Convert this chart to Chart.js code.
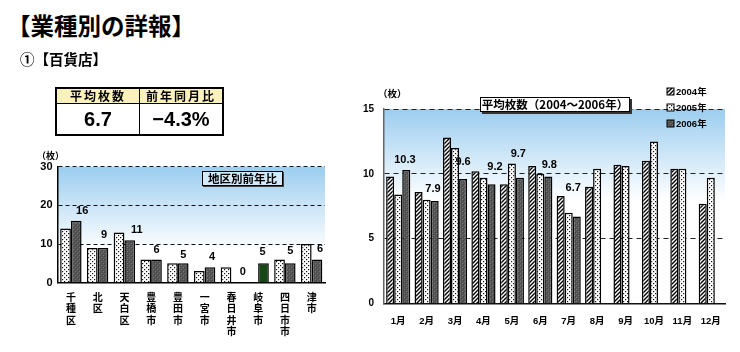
<!DOCTYPE html>
<html lang="ja">
<head>
<meta charset="utf-8">
<script src="https://cdn.jsdelivr.net/npm/chart.js@4.4.1/dist/chart.umd.min.js"></script>
<style>
  html, body { margin: 0; padding: 0; background: #fff; }
  body { width: 740px; height: 352px; position: relative; overflow: hidden;
         font-family: "Liberation Sans", "Noto Sans CJK JP", sans-serif; font-weight: bold; color: #000; }
  .abs { position: absolute; white-space: nowrap; }
  #title { left: 7px; top: 12px; font-size: 23.5px; line-height: 27px; font-family: "Noto Sans CJK JP", sans-serif; }
  #sub { left: 20px; top: 51px; font-size: 14.5px; line-height: 16px; font-family: "Noto Sans CJK JP", sans-serif; }
  #tbl { left: 55px; top: 87px; border-collapse: collapse; border: 2px solid #000; }
  #tbl td { border: 1.5px solid #000; padding: 0; text-align: center; }
  #tbl .h { background: #fbf1bd; height: 14px; font-size: 12px; line-height: 14px; letter-spacing: 2px; font-family: "Noto Sans CJK JP", sans-serif; }
  #tbl .v { background: #fff; height: 30px; font-size: 20px; line-height: 30px; }
  .unit { font-size: 9px; line-height: 10px; font-family: "Noto Sans CJK JP", sans-serif; }
  .box { border: 1.5px solid #000; text-align: center; font-family: "Noto Sans CJK JP", sans-serif; }
  #boxR { left: 480px; top: 97px; width: 148px; height: 13px; font-size: 11.5px; line-height: 13px; background: #fff; box-shadow: 2px 2px 0 #333; }
  #boxL { left: 202px; top: 171px; width: 79px; height: 13px; font-size: 11.5px; line-height: 13px; background: rgba(240,248,253,0.6); box-shadow: 1px 1px 0 #444; border-width: 1.2px; }
  #wrapL { position: absolute; left: 20px; top: 145px; width: 320px; height: 200px; }
  #wrapR { position: absolute; left: 355px; top: 85px; width: 385px; height: 255px; }
</style>
</head>
<body>
<div id="wrapL"><canvas id="chartL"></canvas></div>
<div id="wrapR"><canvas id="chartR"></canvas></div>

<div class="abs" id="title">【業種別の詳報】</div>
<div class="abs" id="sub">①【百貨店】</div>
<table class="abs" id="tbl">
  <tr><td class="h" style="width:82px">平均枚数</td><td class="h" style="width:82px">前年同月比</td></tr>
  <tr><td class="v">6.7</td><td class="v">−4.3%</td></tr>
</table>
<div class="abs unit" style="left:37px; top:151px;">（枚）</div>
<div class="abs unit" style="left:378px; top:88px; font-size:9.5px;">（枚）</div>
<div class="abs box" id="boxR">平均枚数（2004～2006年）</div>
<div class="abs box" id="boxL">地区別前年比</div>

<script>
// ---------- data ----------
const districtNames = ['千種区', '北区', '天白区', '豊橋市', '豊田市', '一宮市', '春日井市', '岐阜市', '四日市市', '津市'];
const districtPrev = [14, 9, 13, 6, 5, 3, 4, null, 6, 10];
const districtCurr = [16, 9, 11, 6, 5, 4, 0, 5, 5, 6];
const districtTicks = [0, 10, 20, 30];

const months = ['1月', '2月', '3月', '4月', '5月', '6月', '7月', '8月', '9月', '10月', '11月', '12月'];
const seriesNames = ['2004年', '2005年', '2006年'];
const avg2004 = [9.8, 8.6, 12.8, 10.2, 9.2, 10.6, 8.3, 9.0, 10.7, 11.0, 10.4, 7.7];
const avg2005 = [8.4, 8.0, 12.0, 9.7, 10.8, 10.0, 7.0, 10.4, 10.6, 12.5, 10.4, 9.7];
const avg2006 = [10.3, 7.9, 9.6, 9.2, 9.7, 9.8, 6.7, null, null, null, null, null];
const monthTicks = [0, 5, 10, 15];

// ---------- patterns ----------
function makePattern(kind) {
  const c = document.createElement('canvas');
  c.width = 4; c.height = 4;
  const g = c.getContext('2d');
  if (kind === 'hatch') {
    g.fillStyle = '#fff'; g.fillRect(0, 0, 4, 4);
    g.strokeStyle = '#000'; g.lineWidth = 1.4;
    g.beginPath();
    g.moveTo(-1, 5); g.lineTo(5, -1);
    g.moveTo(-1, 1); g.lineTo(1, -1);
    g.moveTo(3, 5); g.lineTo(5, 3);
    g.stroke();
  } else if (kind === 'dots') {
    g.fillStyle = '#fff'; g.fillRect(0, 0, 4, 4);
    g.fillStyle = '#111';
    g.fillRect(0, 0, 1.2, 1.2);
    g.fillRect(2, 2, 1.2, 1.2);
  } else {
    g.fillStyle = '#555'; g.fillRect(0, 0, 4, 4);
    g.fillStyle = '#777';
    g.fillRect(1, 0, 1, 1); g.fillRect(3, 2, 1, 1);
    g.fillStyle = '#444';
    g.fillRect(0, 3, 1, 1); g.fillRect(2, 1, 1, 1);
  }
  return g.createPattern(c, 'repeat');
}
const hatch = makePattern('hatch');
const dots = makePattern('dots');
const dark = makePattern('dark');

const FONT = '"Liberation Sans", "Noto Sans CJK JP", sans-serif';

// ---------- plugins ----------
const bgPlugin = {
  id: 'bgGrad',
  beforeDraw(chart, args, opts) {
    const { ctx, chartArea: a, scales } = chart;
    const yEnd = scales.y.getPixelForValue(opts.fadeTo);
    const gr = ctx.createLinearGradient(0, a.top, 0, yEnd);
    gr.addColorStop(0, '#9ccdef');
    gr.addColorStop(1, 'rgba(255,255,255,1)');
    ctx.save();
    ctx.fillStyle = gr;
    ctx.fillRect(a.left, a.top, a.right - a.left, yEnd - a.top);
    ctx.restore();
  }
};

// value labels drawn above each bar of one dataset; per-label nudges are style options
const valuePlugin = {
  id: 'values',
  afterDatasetsDraw(chart, args, opts) {
    const { ctx } = chart;
    const ds = chart.data.datasets[opts.dataset];
    const meta = chart.getDatasetMeta(opts.dataset);
    ctx.save();
    ctx.font = 'bold ' + opts.size + 'px ' + FONT;
    ctx.fillStyle = '#000';
    ctx.textAlign = 'center';
    ctx.textBaseline = 'middle';
    meta.data.forEach((bar, i) => {
      const v = ds.data[i];
      if (v === null || v === undefined) return;
      const txt = opts.decimals ? v.toFixed(1) : String(v);
      const dx = (opts.dx && opts.dx[i] !== undefined) ? opts.dx[i] : 0;
      const dy = (opts.dy && opts.dy[i] !== undefined) ? opts.dy[i] : 10.5;
      ctx.fillText(txt, bar.x + dx, bar.y - dy);
    });
    ctx.restore();
  }
};

const legendPlugin = {
  id: 'myLegend',
  afterDraw(chart, args, opts) {
    const { ctx } = chart;
    const fills = [hatch, dots, dark];
    ctx.save();
    seriesNames.forEach((name, i) => {
      const x = opts.x, y = opts.y + i * opts.step;
      ctx.fillStyle = fills[i];
      ctx.fillRect(x, y - 3.5, 7, 7);
      ctx.strokeStyle = '#000'; ctx.lineWidth = 1;
      ctx.strokeRect(x, y - 3.5, 7, 7);
      ctx.fillStyle = '#000';
      ctx.font = 'bold 9.5px ' + FONT;
      ctx.textAlign = 'left';
      ctx.textBaseline = 'middle';
      ctx.fillText(name, x + 9, y + 0.5);
    });
    ctx.restore();
  }
};

// ---------- left chart ----------
new Chart(document.getElementById('chartL'), {
  type: 'bar',
  data: {
    labels: districtNames.map(n => [...n]),
    datasets: [
      { label: '前年', data: districtPrev, backgroundColor: dots, borderColor: '#000', borderWidth: 1.5,
        barPercentage: 1.0, categoryPercentage: 0.8 },
      { label: '当年', data: districtCurr,
        backgroundColor: (c) => c.dataIndex === 7 ? '#174717' : dark,
        borderColor: '#000',
        borderWidth: (c) => c.raw === 0 ? 0 : 1.5,
        barPercentage: 1.0, categoryPercentage: 0.8 }
    ]
  },
  options: {
    responsive: true, maintainAspectRatio: false, animation: false,
    layout: { padding: { top: 21.7, right: 15, bottom: 0, left: 0 } },
    plugins: {
      legend: { display: false }, tooltip: { enabled: false },
      bgGrad: { fadeTo: 8.5 },
      values: { dataset: 1, size: 11, decimals: false,
                dx: [6, 1, 7, 0, 0, 2, 6, -1, 0, 3],
                dy: [10.3, 12.6, 9.8, 9.3, 8.5, 9.8, 10.7, 11.2, 12.2, 11] }
    },
    scales: {
      x: {
        grid: { display: false },
        border: { display: true, color: '#000', width: 1.5 },
        ticks: { color: '#000', padding: 0.5, maxRotation: 0, autoSkip: false,
                 font: { family: '"Noto Sans CJK JP", sans-serif', size: 10, weight: 'bold', lineHeight: 1.15 } },
        afterFit(s) { s.height = 62.3; }
      },
      y: {
        min: 0, max: 30,
        afterBuildTicks(s) { s.ticks = districtTicks.map(v => ({ value: v })); },
        grid: { drawTicks: false, color: (c) => c.tick && c.tick.value === 0 ? 'rgba(0,0,0,0)' : '#111', lineWidth: 1 },
        border: { display: true, color: '#000', width: 1.5, dash: [4, 3] },
        ticks: { color: '#000', padding: 5, font: { family: FONT, size: 11, weight: 'bold' } },
        afterFit(s) { s.width = 37.5; }
      }
    }
  },
  plugins: [bgPlugin, valuePlugin]
});

// ---------- right chart ----------
new Chart(document.getElementById('chartR'), {
  type: 'bar',
  data: {
    labels: months,
    datasets: [
      { label: seriesNames[0], data: avg2004, backgroundColor: hatch, borderColor: '#000', borderWidth: 1.5,
        barPercentage: 1.0, categoryPercentage: 0.85 },
      { label: seriesNames[1], data: avg2005, backgroundColor: dots, borderColor: '#000', borderWidth: 1.5,
        barPercentage: 1.0, categoryPercentage: 0.85 },
      { label: seriesNames[2], data: avg2006, backgroundColor: dark, borderColor: '#000', borderWidth: 1.5,
        barPercentage: 1.0, categoryPercentage: 0.85 }
    ]
  },
  options: {
    responsive: true, maintainAspectRatio: false, animation: false,
    layout: { padding: { top: 24, right: 15, bottom: 0, left: 0 } },
    plugins: {
      legend: { display: false }, tooltip: { enabled: false },
      bgGrad: { fadeTo: 8 },
      values: { dataset: 2, size: 11, decimals: true,
                dx: [-1.3, -1.7, 0, 3.5, -1.6, 1, -3.5],
                dy: [9.6, 11.8, 17, 17.2, 23.4, 11.1, 28.7] },
      myLegend: { x: 312, y: 6.5, step: 16 }
    },
    scales: {
      x: {
        grid: { display: false },
        border: { display: true, color: '#111', width: 1.5 },
        ticks: { color: '#000', padding: 4, maxRotation: 0, autoSkip: false,
                 font: { family: FONT, size: 9.5, weight: 'bold', lineHeight: 1.2 } },
        afterFit(s) { s.height = 36.5; }
      },
      y: {
        min: 0, max: 15,
        afterBuildTicks(s) { s.ticks = monthTicks.map(v => ({ value: v })); },
        grid: { drawTicks: false, color: (c) => c.tick && c.tick.value === 0 ? 'rgba(0,0,0,0)' : '#222', lineWidth: 1 },
        border: { display: true, color: '#666', width: 1.5, dash: [5, 4] },
        ticks: { color: '#000', padding: 10, font: { family: FONT, size: 10, weight: 'bold' } },
        afterFit(s) { s.width = 29; }
      }
    }
  },
  plugins: [bgPlugin, valuePlugin, legendPlugin]
});
</script>
</body>
</html>
